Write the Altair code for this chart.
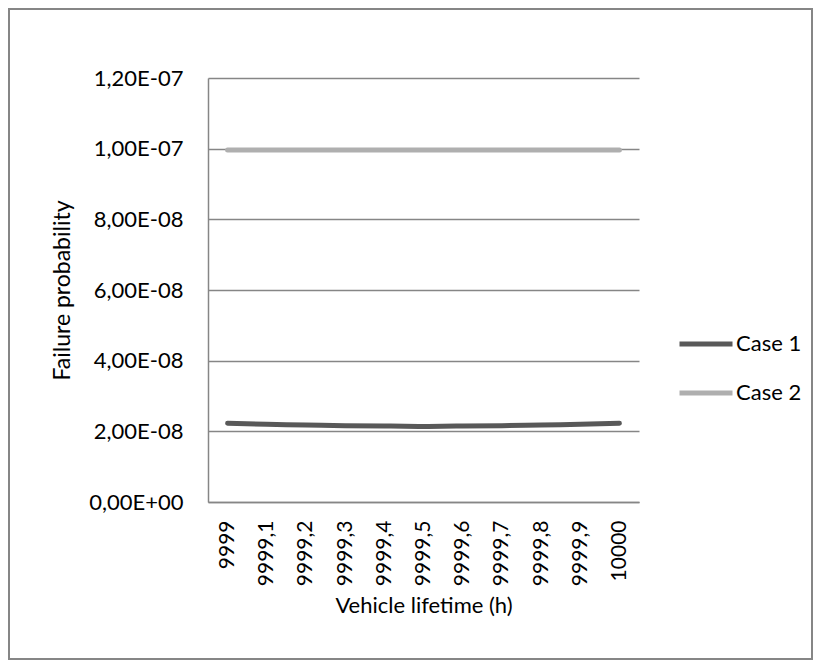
import altair as alt
import pandas as pd

# ---- data ----
lifetime = ["9999", "9999,1", "9999,2", "9999,3", "9999,4", "9999,5",
            "9999,6", "9999,7", "9999,8", "9999,9", "10000"]
case1 = [2.23e-8, 2.20e-8, 2.18e-8, 2.16e-8, 2.15e-8, 2.14e-8,
         2.15e-8, 2.16e-8, 2.18e-8, 2.20e-8, 2.23e-8]
case2 = [9.96e-8, 9.96e-8, 9.96e-8, 9.96e-8, 9.96e-8, 9.96e-8,
         9.96e-8, 9.96e-8, 9.96e-8, 9.96e-8, 9.96e-8]
series = ["Case 1", "Case 2"]
series_colors = ["#595959", "#afafaf"]
y_ticks = [0, 2e-8, 4e-8, 6e-8, 8e-8, 1e-7, 1.2e-7]
y_tick_labels = ["0,00E+00", "2,00E-08", "4,00E-08", "6,00E-08",
                 "8,00E-08", "1,00E-07", "1,20E-07"]

rows = []
for name, vals in zip(series, [case1, case2]):
    for t, v in zip(lifetime, vals):
        rows.append({"lifetime": t, "p": v, "series": name})
df = pd.DataFrame(rows)

W, H = 431, 424
FONT = "Lato"
GRAY = "#868686"

label_expr = "[" + ",".join("'%s'" % s for s in y_tick_labels) + "][round(datum.value / 2e-8)]"

lines = alt.Chart(df).mark_line(
    strokeWidth=5, strokeCap="round", strokeJoin="round", interpolate="monotone"
).encode(
    x=alt.X("lifetime:O", sort=lifetime,
            scale=alt.Scale(type="point", padding=0.5),
            axis=alt.Axis(title="Vehicle lifetime (h)", labelAngle=-90, ticks=False,
                          labelPadding=18, grid=False, labelFontSize=21,
                          titleX=W / 2, titleY=103, titleBaseline="middle",
                          titleAlign="center", titleFontSize=22)),
    y=alt.Y("p:Q", scale=alt.Scale(domain=[0, 1.2e-7], nice=False, zero=True),
            axis=alt.Axis(values=y_ticks, labelExpr=label_expr, ticks=False,
                          labelPadding=25, labelFontSize=22, grid=True,
                          title="Failure probability", titleX=-146, titleY=H / 2,
                          titleAngle=-90, titleBaseline="middle", titleAlign="center",
                          titleFontSize=23)),
    color=alt.Color("series:N", scale=alt.Scale(domain=series, range=series_colors),
                    legend=alt.Legend(title=None, orient="none", legendX=469, legendY=237,
                                      symbolType="stroke", symbolSize=2809,
                                      symbolStrokeWidth=5, labelOffset=1, rowPadding=9,
                                      labelFontSize=22, labelFont=FONT, labelColor="black",
                                      padding=0)),
)

border = alt.Chart(pd.DataFrame({"a": [0]})).mark_rect(
    fill="white", fillOpacity=0, stroke=GRAY, strokeWidth=2
).encode(
    x=alt.value(-199), x2=alt.value(604), y=alt.value(-69), y2=alt.value(581)
)

chart = alt.layer(border, lines).properties(
    width=W, height=H,
    padding={"left": 200, "top": 70, "right": 174, "bottom": 159},
    autosize=alt.AutoSizeParams(type="none"),
    background="white",
).configure_view(strokeWidth=0).configure_axis(
    domainColor=GRAY, domainWidth=1.5, gridColor=GRAY, gridWidth=1.5,
    labelColor="black", titleColor="black", labelFont=FONT, titleFont=FONT,
    titleFontWeight="normal",
)

chart.save("out.html", embed_options={"renderer": "svg", "actions": False})
